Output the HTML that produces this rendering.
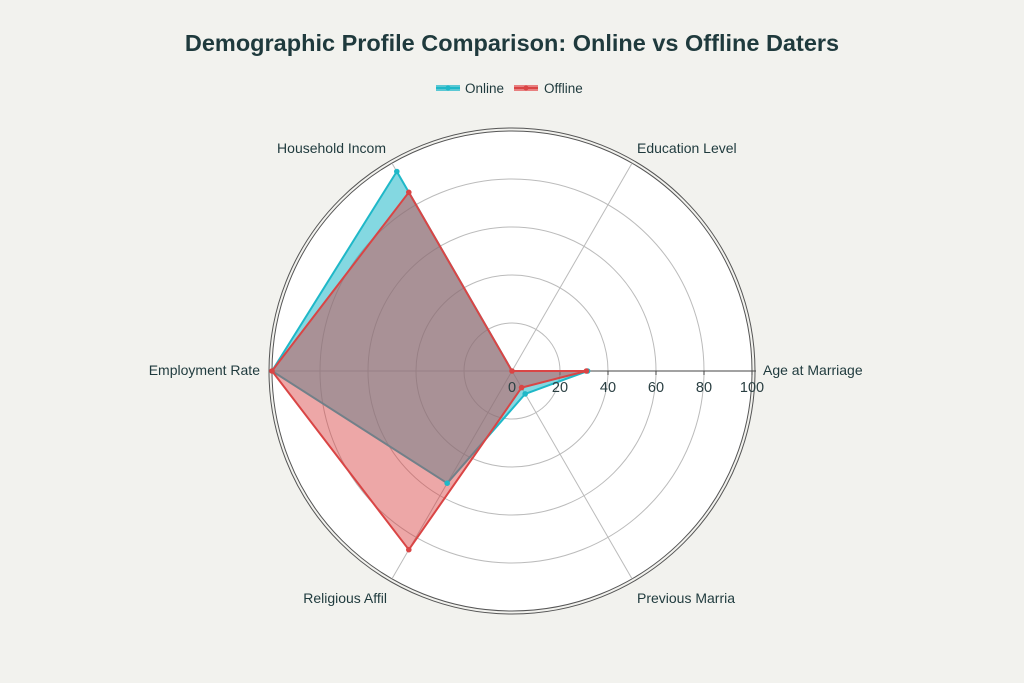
<!DOCTYPE html>
<html><head><meta charset="utf-8"><style>
body{margin:0;background:#f2f2ee;}
svg{display:block;font-family:"Liberation Sans",sans-serif;}
</style></head><body>
<svg width="1024" height="683" viewBox="0 0 1024 683">
<rect width="1024" height="683" fill="#f2f2ee"/>
<text x="512" y="51" text-anchor="middle" font-size="23.5" font-weight="bold" fill="#1f3a3d">Demographic Profile Comparison: Online vs Offline Daters</text>
<g font-size="13.5" fill="#1f3a3d">
<rect x="436" y="85" width="24" height="6" fill="#5bc8d4"/><line x1="436" y1="88" x2="460" y2="88" stroke="#1fb8c8" stroke-width="2"/><circle cx="448" cy="88" r="2.5" fill="#1fb8c8"/>
<text x="465" y="93">Online</text>
<rect x="514" y="85" width="24" height="6" fill="#e88080"/><line x1="514" y1="88" x2="538" y2="88" stroke="#d94545" stroke-width="2"/><circle cx="526" cy="88" r="2.5" fill="#d94545"/>
<text x="544" y="93">Offline</text>
</g>
<circle cx="512" cy="371" r="243" fill="none" stroke="#555" stroke-width="1"/>
<circle cx="512" cy="371" r="240" fill="#fff" stroke="#555" stroke-width="1"/>
<g fill="none" stroke="#bbb" stroke-width="1">
<circle cx="512" cy="371" r="48"/><circle cx="512" cy="371" r="96"/><circle cx="512" cy="371" r="144"/><circle cx="512" cy="371" r="192"/>
<line x1="512" y1="371" x2="632" y2="163.2"/><line x1="512" y1="371" x2="392" y2="163.2"/>
<line x1="512" y1="371" x2="272" y2="371"/><line x1="512" y1="371" x2="392" y2="578.8"/><line x1="512" y1="371" x2="632" y2="578.8"/>
</g>
<line x1="512" y1="371" x2="756" y2="371" stroke="#444" stroke-width="1"/>
<g stroke="#444"><line x1="560" y1="371" x2="560" y2="375"/><line x1="608" y1="371" x2="608" y2="375"/><line x1="656" y1="371" x2="656" y2="375"/><line x1="704" y1="371" x2="704" y2="375"/><line x1="752" y1="371" x2="752" y2="375"/></g>
<polygon points="587.6,371 512,371 396.8,171.5 272,371 447.2,483.2 525.2,393.9" fill="rgba(31,184,200,0.55)" stroke="#1fb8c8" stroke-width="2" stroke-linejoin="round"/>
<polygon points="586.4,371 512,371 408.8,192.3 272,371 408.8,549.7 521.6,387.6" fill="rgba(214,60,60,0.45)" stroke="#d94545" stroke-width="2" stroke-linejoin="round"/>
<g fill="#1fb8c8"><circle cx="587.6" cy="371" r="2.8"/><circle cx="396.8" cy="171.5" r="2.8"/><circle cx="447.2" cy="483.2" r="2.8"/><circle cx="525.2" cy="393.9" r="2.8"/></g>
<g fill="#d94545"><circle cx="586.4" cy="371" r="2.8"/><circle cx="512" cy="371" r="2.8"/><circle cx="408.8" cy="192.3" r="2.8"/><circle cx="272" cy="371" r="2.8"/><circle cx="408.8" cy="549.7" r="2.8"/><circle cx="521.6" cy="387.6" r="2.8"/></g>
<g font-size="14.5" fill="#2a3f42" text-anchor="middle">
<text x="512" y="392">0</text><text x="560" y="392">20</text><text x="608" y="392">40</text><text x="656" y="392">60</text><text x="704" y="392">80</text><text x="752" y="392">100</text>
</g>
<g font-size="14" fill="#1f3a3d">
<text x="763" y="375">Age at Marriage</text>
<text x="637" y="153">Education Level</text>
<text x="386" y="153" text-anchor="end">Household Incom</text>
<text x="260" y="375" text-anchor="end">Employment Rate</text>
<text x="387" y="603" text-anchor="end">Religious Affil</text>
<text x="637" y="603">Previous Marria</text>
</g>
</svg>
</body></html>
